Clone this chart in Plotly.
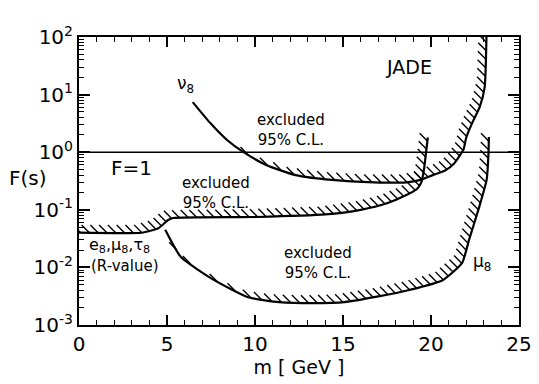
import numpy as np
import plotly.graph_objects as go

# ---- data ----
nu8_m = [6.46, 7.46, 8.41, 9.35, 10.63, 12.31, 14.37, 16.76, 18.6, 19.4, 20.1, 20.8, 21.3, 21.65, 21.85, 22.0, 22.33, 22.77, 23.05, 23.15]
nu8_F = [7.4, 3.2, 1.63, 1.0, 0.60, 0.40, 0.33, 0.30, 0.30, 0.33, 0.40, 0.48, 0.63, 0.89, 1.12, 1.78, 3.16, 6.1, 13.5, 100]

rval_m = [0, 3.56, 4.51, 5.07, 5.35, 10.08, 14.0, 16.0, 17.5, 18.6, 19.2, 19.45, 19.6, 19.72, 19.82]
rval_F = [0.040, 0.040, 0.048, 0.0665, 0.072, 0.075, 0.083, 0.10, 0.13, 0.18, 0.23, 0.30, 0.5, 1.0, 1.8]

mu8_m = [4.9, 5.79, 7.68, 9.52, 10.47, 11.36, 13.25, 15.09, 16.93, 18.82, 20.66, 21.77, 22.16, 22.72, 23.16, 23.27, 23.29]
mu8_F = [0.045, 0.0151, 0.0060, 0.0031, 0.0027, 0.0025, 0.0024, 0.0025, 0.0031, 0.0041, 0.0060, 0.012, 0.030, 0.107, 0.33, 1.0, 1.84]

F_one_m = [0, 25]
F_one_F = [1, 1]

x_ticks = [0, 5, 10, 15, 20, 25]
y_ticks = [1e-3, 1e-2, 1e-1, 1, 10, 100]
y_ticktext = ["10<sup>-3</sup>", "10<sup>-2</sup>", "10<sup>-1</sup>", "10<sup>0</sup>", "10<sup>1</sup>", "10<sup>2</sup>"]

# ---- geometry helpers (plot area size in px) ----
W, H = 539, 384
ML, MR, MT, MB = 79, 20, 37, 59
XR = (0, 25)
YR = (-3, 2)
XPX = (W - ML - MR) / (XR[1] - XR[0])
YPX = (H - MT - MB) / (YR[1] - YR[0])


def hatch(m, F, spacing=6.2, length=11.0):
    """Short '\\' strokes on the upper-left side of a curve, like a fill pattern."""
    px = np.asarray(m, float) * XPX
    py = np.log10(np.asarray(F, float)) * YPX
    u = (px + py) / np.sqrt(2)  # coordinate perpendicular to the stroke direction
    xs, ys = [], []
    d = length / np.sqrt(2)
    for i in range(len(px) - 1):
        u0, u1 = u[i], u[i + 1]
        if u1 == u0:
            continue
        lo, hi = min(u0, u1), max(u0, u1)
        for k in range(int(np.ceil(lo / spacing)), int(np.floor(hi / spacing)) + 1):
            t = (k * spacing - u0) / (u1 - u0)
            if t < 0 or t >= 1:
                continue
            a = px[i] + t * (px[i + 1] - px[i])
            b = py[i] + t * (py[i + 1] - py[i])
            xs += [a / XPX, (a - d) / XPX, None]
            ys += [10 ** (b / YPX), 10 ** ((b + d) / YPX), None]
    return xs, ys


fig = go.Figure()

fig.add_trace(go.Scatter(x=F_one_m, y=F_one_F, mode="lines",
                         line=dict(color="black", width=1.6), hoverinfo="skip"))

for m, F in [(nu8_m, nu8_F), (rval_m, rval_F), (mu8_m, mu8_F)]:
    hx, hy = hatch(m, F)
    fig.add_trace(go.Scatter(x=hx, y=hy, mode="lines",
                             line=dict(color="black", width=1.4), hoverinfo="skip"))
    fig.add_trace(go.Scatter(x=m, y=F, mode="lines",
                             line=dict(color="black", width=2.2, shape="spline", smoothing=0.5),
                             hoverinfo="skip"))

FONT = "DejaVu Sans"
ann = [
    dict(text="JADE", x=18.75, y=1.48, size=19),
    dict(text="ν<sub>8</sub>", x=6.05, y=1.17, size=17),
    dict(text="excluded<br>95% C.L.", x=12.05, y=0.385, size=15),
    dict(text="F=1", x=3.0, y=-0.27, size=20),
    dict(text="excluded<br>95% C.L.", x=7.8, y=-0.71, size=15),
    dict(text="excluded<br>95% C.L.", x=13.6, y=-1.92, size=15),
    dict(text="μ<sub>8</sub>", x=22.9, y=-1.91, size=17),
]
for a in ann:
    fig.add_annotation(x=a["x"], y=a["y"], xref="x", yref="y", text=a["text"],
                       showarrow=False, font=dict(family=FONT, size=a["size"], color="black"),
                       align="center")
fig.add_annotation(x=0.45, y=-1.62, xref="x", yref="y", xanchor="left",
                   text="e<sub>8</sub>,μ<sub>8</sub>,τ<sub>8</sub>", showarrow=False,
                   font=dict(family=FONT, size=16, color="black"))
fig.add_annotation(x=0.55, y=-1.98, xref="x", yref="y", xanchor="left",
                   text="(R-value)", showarrow=False,
                   font=dict(family=FONT, size=15, color="black"))
# y-axis title, horizontal
fig.add_annotation(x=-0.115, y=0.51, xref="paper", yref="paper", xanchor="center",
                   text="F(s)", showarrow=False, font=dict(family=FONT, size=20, color="black"))

y_minor = [k * 10.0 ** e for e in range(-3, 2) for k in range(2, 10)]

fig.update_layout(
    width=W, height=H, autosize=False,
    margin=dict(l=ML, r=MR, t=MT, b=MB, autoexpand=False),
    paper_bgcolor="white", plot_bgcolor="white",
    showlegend=False,
    font=dict(family=FONT, color="black", size=20),
)
fig.update_xaxes(
    range=list(XR), tickvals=x_ticks, ticks="inside", ticklen=10, tickwidth=1.5,
    tickcolor="black", showline=True, linecolor="black", linewidth=2, mirror="allticks",
    showgrid=False, zeroline=False, automargin=False, ticklabeloverflow="allow",
    minor=dict(ticks="inside", dtick=1, tick0=0, ticklen=5, tickwidth=1.2,
               tickcolor="black", showgrid=False),
    tickfont=dict(family=FONT, size=20),
    title=dict(text="m [ GeV ]", font=dict(family=FONT, size=19), standoff=6),
)
fig.update_yaxes(
    type="log", range=list(YR), tickvals=y_ticks, ticktext=y_ticktext,
    ticks="inside", ticklen=11, tickwidth=1.5, tickcolor="black",
    showline=True, linecolor="black", linewidth=2, mirror="allticks",
    showgrid=False, zeroline=False, automargin=False, ticklabeloverflow="allow",
    minor=dict(ticks="inside", tickvals=y_minor, ticklen=5, tickwidth=1.1,
               tickcolor="black", showgrid=False),
    tickfont=dict(family=FONT, size=20),
)

fig.write_html(
    "out.html",
    config={"responsive": False, "displayModeBar": False},
    post_script=(
        "document.documentElement.style.overflow='hidden';"
        "document.documentElement.style.margin='0';"
        "document.body.style.margin='0';document.body.style.padding='0';"
        "document.body.style.overflow='hidden';"
    ),
)
